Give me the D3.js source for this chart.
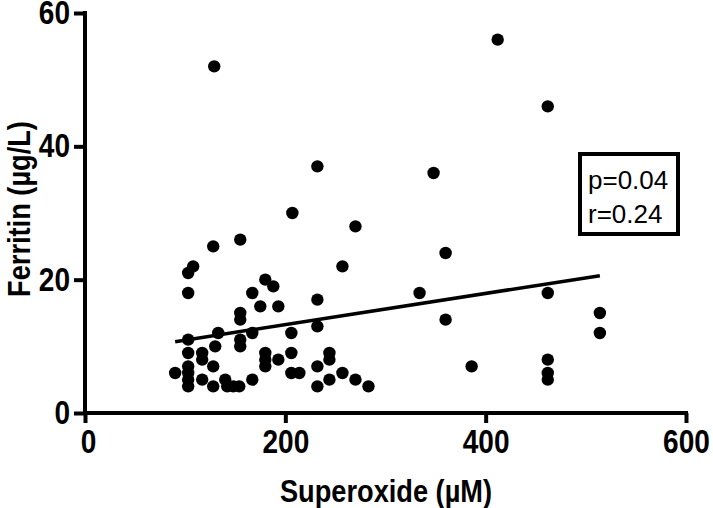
<!doctype html>
<html>
<head>
<script src="https://d3js.org/d3.v7.min.js"></script>
<style>
  body { margin: 0; background: #fff; }
  text { font-family: "Liberation Sans", Arial, sans-serif; }
  .bold { font-weight: bold; }
</style>
</head>
<body>
<script>
// superoxide (x) values, ferritin (y) values
var superoxide = [90,
  103,108,103,103,103,103,103,103,103,
  117,117,117,
  128,129,130,128,128,
  133,
  140,142,148,154,
  155,155,155,155,155,
  167,167,167,
  175,
  180,180,180,180,
  188,
  193,193,
  207,206,206,206,
  214,
  232,232,232,232,232,
  244,244,244,
  257,257,
  270,270,
  283,
  334,
  348,
  360,360,
  386,
  412,
  462,462,462,462,462,
  514,514];
var ferritin = [6,
  21,22,18,11,9,7,6,5,4,
  9,8,5,
  25,52,10,7,4,
  12,
  5,4,4,4,
  26,15,14,11,10,
  18,12,5,
  16,
  20,9,8,7,
  19,
  16,8,
  30,12,9,6,
  6,
  37,17,13,7,4,
  9,8,5,
  22,6,
  28,5,
  4,
  18,
  36,
  24,14,
  7,
  56,
  46,18,8,6,5,
  15,12];

// regression line end points
var fitX = [90, 514];
var fitY = [10.7, 20.6];

var xTicks = [0, 200, 400, 600];
var yTicks = [0, 20, 40, 60];
var statsLines = ["p=0.04", "r=0.24"];

var width = 713, height = 508;
var margin = {top: 13, right: 27, bottom: 95, left: 85},
    chartWidth = width - margin.left - margin.right,
    chartHeight = height - margin.top - margin.bottom;
var squeeze = 0.85; // the labels use a narrow bold face

var svg = d3.select("body").append("svg")
    .attr("width", width)
    .attr("height", height);

var g = svg.append("g")
    .attr("transform", "translate(" + margin.left + "," + margin.top + ")");

var xScale = d3.scaleLinear().domain([0, 600]).range([0, chartWidth]);
var yScale = d3.scaleLinear().domain([0, 60]).range([chartHeight, 0]);

var x_axis = d3.axisBottom(xScale).tickValues(xTicks).tickSize(10).tickPadding(5).tickSizeOuter(0);
var y_axis = d3.axisLeft(yScale).tickValues(yTicks).tickSize(11).tickPadding(4).tickSizeOuter(0);

var gx = g.append("g")
    .attr("transform", "translate(0," + chartHeight + ")")
    .call(x_axis);
var gy = g.append("g").call(y_axis);

[gx, gy].forEach(function(a) {
  a.select(".domain").attr("stroke", "#000").attr("stroke-width", 4);
  a.selectAll(".tick line").attr("stroke", "#000").attr("stroke-width", 4);
  a.selectAll(".tick text")
    .attr("class", "bold")
    .attr("fill", "#000")
    .style("font-size", "33px")
    .attr("transform", "scale(" + squeeze + ",1)");
});
// extend the domain lines so the corners close
gx.select(".domain").attr("d", "M-2,0H" + (chartWidth + 2));
gy.select(".domain").attr("d", "M0," + (chartHeight + 2) + "V-2");
gx.selectAll(".tick text").attr("dy", "0.76em").attr("x", (d, i) => (i === 0 ? 3 : 0) / squeeze);
gy.selectAll(".tick text").attr("x", -15 / squeeze);

// points
var points = superoxide.map(function(x, i) { return {x: x, y: ferritin[i]}; });
g.selectAll("circle.pt")
  .data(points)
  .enter().append("circle")
    .attr("class", "pt")
    .attr("cx", d => xScale(d.x))
    .attr("cy", d => yScale(d.y))
    .attr("r", 6.2)
    .attr("fill", "#000");

// fit line
g.append("path")
  .datum(fitX.map(function(x, i) { return [x, fitY[i]]; }))
  .attr("fill", "none")
  .attr("stroke", "#000")
  .attr("stroke-width", 3.5)
  .attr("d", d3.line().x(d => xScale(d[0])).y(d => yScale(d[1])));

// stats box
var box = g.append("g").attr("transform", "translate(" + (580 - margin.left) + "," + (154 - margin.top) + ")");
box.append("rect")
  .attr("x", 0).attr("y", 0)
  .attr("width", 98).attr("height", 80)
  .attr("fill", "#fff")
  .attr("stroke", "#000")
  .attr("stroke-width", 4);
box.selectAll("text")
  .data(statsLines)
  .enter().append("text")
    .attr("x", 8)
    .attr("y", (d, i) => 35 + i * 34)
    .style("font-size", "26px")
    .attr("fill", "#000")
    .text(d => d);

// axis titles
svg.append("text")
  .attr("class", "bold")
  .attr("transform", "translate(386,502) scale(" + squeeze + ",1)")
  .attr("text-anchor", "middle")
  .style("font-size", "32px")
  .text("Superoxide (µM)");

svg.append("text")
  .attr("class", "bold")
  .attr("transform", "translate(30,209) rotate(-90) scale(" + squeeze + ",1)")
  .attr("text-anchor", "middle")
  .style("font-size", "32px")
  .text("Ferritin (µg/L)");
</script>
</body>
</html>
